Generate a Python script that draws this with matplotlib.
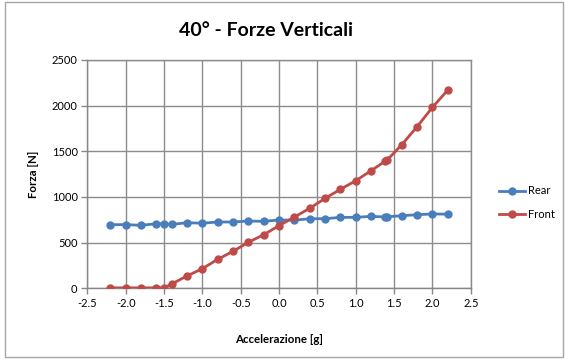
import matplotlib
matplotlib.use("Agg")
import matplotlib.pyplot as plt
from matplotlib.patches import Rectangle

# Acceleration [g] and vertical loads [N]
accel = [-2.2, -2.0, -1.8, -1.6, -1.5, -1.4, -1.2, -1.0, -0.8, -0.6, -0.4, -0.2,
         0.0, 0.2, 0.4, 0.6, 0.8, 1.0, 1.2, 1.38, 1.41, 1.6, 1.8, 2.0, 2.2]
rear = [697, 697, 690, 707, 707, 700, 718, 713, 726, 726, 737, 733,
        748, 746, 762, 762, 777, 777, 788, 781, 783, 795, 806, 814, 812]
front = [5, 5, 5, 5, 5, 47, 135, 215, 317, 405, 504, 587,
         686, 780, 876, 985, 1084, 1178, 1288, 1390, 1405, 1572, 1770, 1982, 2171]

title = "40° - Forze Verticali"
xlabel = "Accelerazione [g]"
ylabel = "Forza [N]"
series_names = ["Rear", "Front"]
xticks = [-2.5, -2.0, -1.5, -1.0, -0.5, 0.0, 0.5, 1.0, 1.5, 2.0, 2.5]
yticks = [0, 500, 1000, 1500, 2000, 2500]

plt.rcParams["font.family"] = ["Lato", "DejaVu Sans"]

W, H = 565, 359
fig = plt.figure(figsize=(W / 100, H / 100), dpi=100)
fig.patch.set_facecolor("white")

# chart-area border
fig.patches.append(Rectangle((5 / W, 2 / H), (W - 7) / W, (H - 4) / H,
                             transform=fig.transFigure, fill=False,
                             edgecolor="#a6a6a6", linewidth=1.0))

ax = fig.add_axes([87.3 / W, 1 - 288.3 / H, (470.8 - 87.3) / W, (288.3 - 60) / H])

grid_c = "#8c8c8c"
axis_c = "#868686"
blue = "#4A7EBB"
red = "#BE4B48"

ax.plot(accel, rear, color=blue, lw=2.0, marker="o", ms=5, label=series_names[0],
        zorder=3)
ax.plot(accel, front, color=red, lw=2.0, marker="o", ms=5, label=series_names[1],
        zorder=3)

ax.set_xlim(-2.5, 2.5)
ax.set_ylim(0, 2500)
ax.set_xticks(xticks)
ax.set_xticklabels([f"{t:.1f}" for t in xticks])
ax.set_yticks(yticks)
ax.set_yticklabels([str(t) for t in yticks])

ax.grid(True, color=grid_c, linewidth=1.0, zorder=0)
ax.set_axisbelow(True)
for side in ["top", "right"]:
    ax.spines[side].set_color(grid_c)
    ax.spines[side].set_linewidth(1.0)
for side in ["left", "bottom"]:
    ax.spines[side].set_color(axis_c)
    ax.spines[side].set_linewidth(1.0)

ax.tick_params(axis="both", colors=axis_c, direction="out", length=4, width=1.0,
               labelsize=8, labelcolor="black", pad=3)

ax.set_xlabel(xlabel, fontsize=8.3, fontweight="bold", labelpad=18)
ax.set_ylabel(ylabel, fontsize=8.3, fontweight="bold", labelpad=9)

fig.text(266 / W, 1 - 31 / H, title, ha="center", va="center",
         fontsize=14, fontweight="bold")

leg = fig.legend(*ax.get_legend_handles_labels(), loc="center left",
                 bbox_to_anchor=(499 / W, 1 - 202.5 / H), frameon=False,
                 fontsize=8, handlelength=2.35, labelspacing=1.1,
                 handletextpad=0.3, borderpad=0, borderaxespad=0)

fig.savefig("out.png", dpi=100)
